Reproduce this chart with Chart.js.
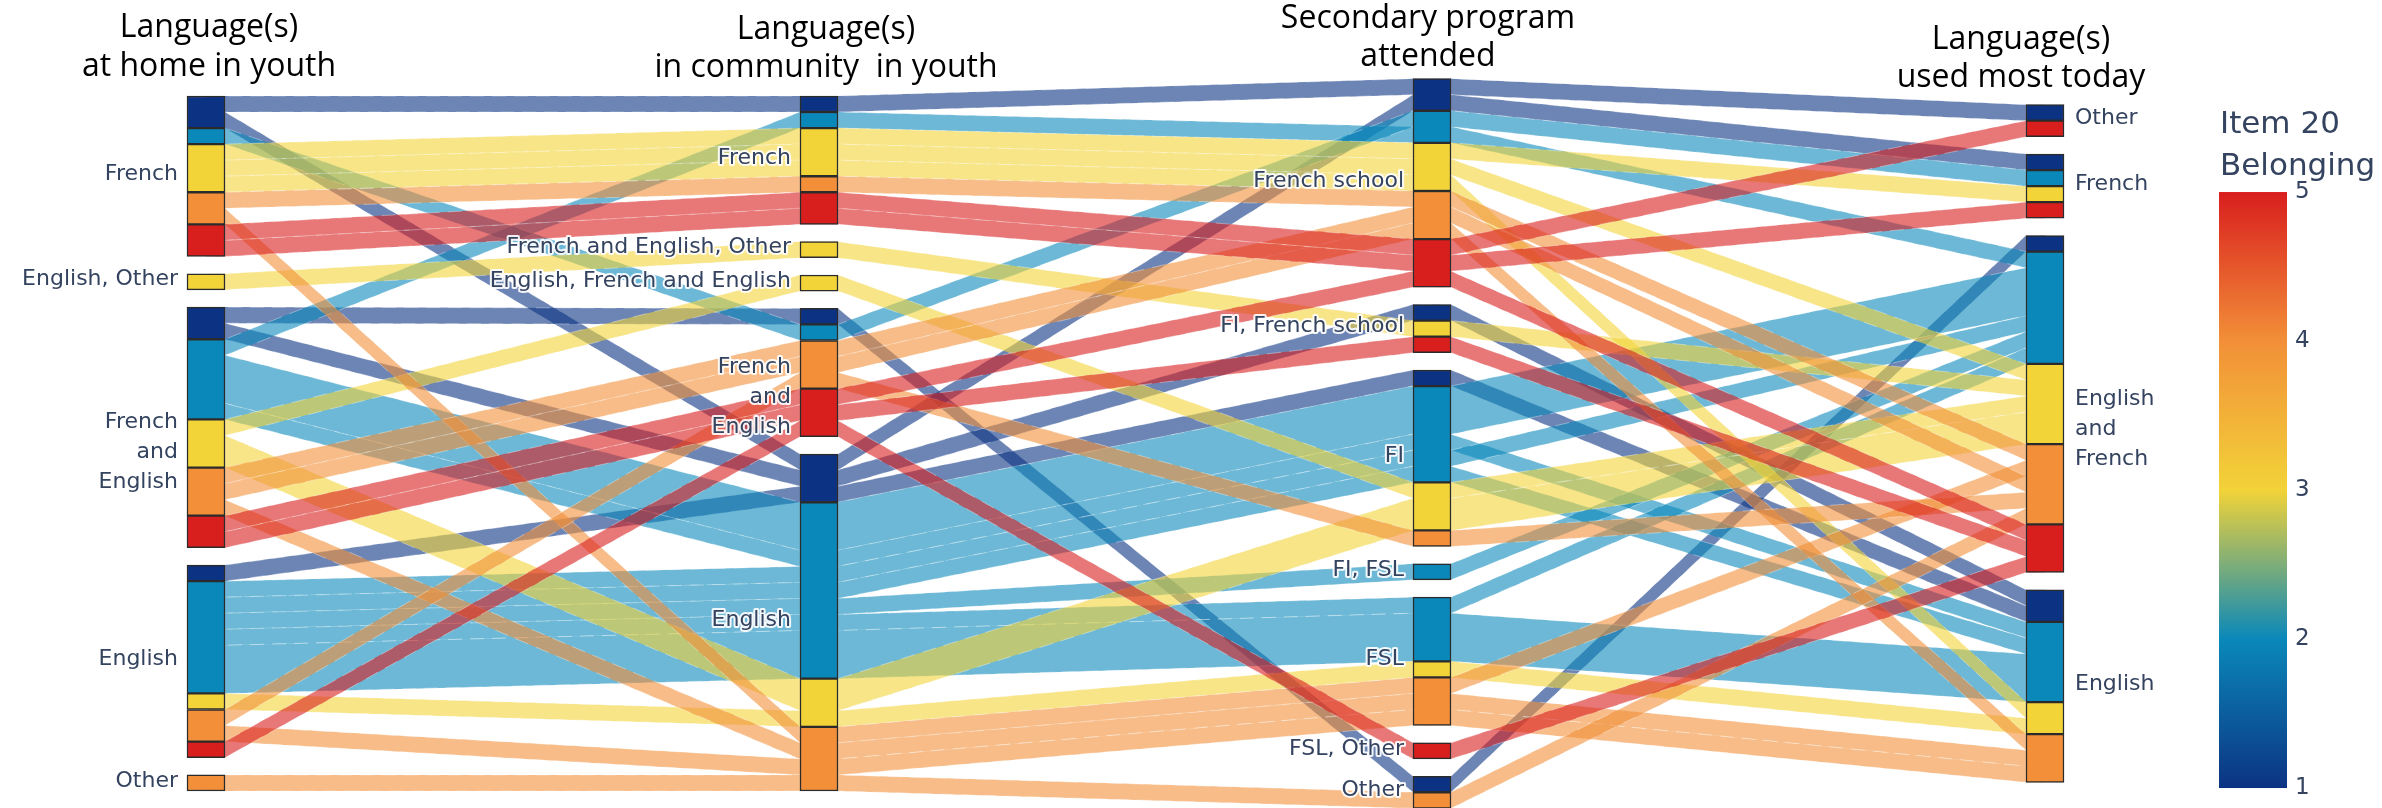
<!DOCTYPE html>
<html>
<head>
<meta charset="utf-8">
<script src="https://cdn.jsdelivr.net/npm/chart.js@4.4.1/dist/chart.umd.min.js"></script>
<style>
  html, body { margin: 0; padding: 0; background: #ffffff; }
  canvas { display: block; }
</style>
</head>
<body>
<canvas id="parcats" width="2382" height="808"></canvas>
<script>
// ---- Dimension titles and category orders (top to bottom) ----
const dimensionTitles = [
  ['Language(s)', 'at home in youth'],
  ['Language(s)', 'in community  in youth'],
  ['Secondary program', 'attended'],
  ['Language(s)', 'used most today']
];
const homeCategories = ['French', 'English, Other', 'French\nand\nEnglish', 'English', 'Other'];
const communityCategories = ['French', 'French and English, Other', 'English, French and English', 'French\nand\nEnglish', 'English'];
const schoolCategories = ['French school', 'FI, French school', 'FI', 'FI, FSL', 'FSL', 'FSL, Other', 'Other'];
const todayCategories = ['Other', 'French', 'English\nand\nFrench', 'English'];

// ---- Respondent paths: one entry per distinct path, with its count ----
const pathHome = [
  'French', 'French', 'French\nand\nEnglish', 'French\nand\nEnglish', 'English',
  'French\nand\nEnglish', 'French', 'French\nand\nEnglish', 'French\nand\nEnglish', 'English', 'English', 'English', 'English', 'English',
  'French', 'French', 'French', 'English, Other', 'French\nand\nEnglish', 'French\nand\nEnglish', 'English',
  'French', 'French', 'French\nand\nEnglish', 'French\nand\nEnglish', 'French\nand\nEnglish', 'English', 'English', 'Other',
  'French', 'French', 'French\nand\nEnglish', 'French\nand\nEnglish', 'English'
];
const pathCommunity = [
  'French', 'English', 'French\nand\nEnglish', 'English', 'English',
  'French', 'French\nand\nEnglish', 'English', 'English', 'English', 'English', 'English', 'English', 'English',
  'French', 'French', 'French', 'French and English, Other', 'English, French and English', 'English', 'English',
  'French', 'English', 'French\nand\nEnglish', 'French\nand\nEnglish', 'English', 'French\nand\nEnglish', 'English', 'English',
  'French', 'French', 'French\nand\nEnglish', 'French\nand\nEnglish', 'French\nand\nEnglish'
];
const pathSchool = [
  'French school', 'French school', 'Other', 'FI, French school', 'FI',
  'French school', 'French school', 'FI', 'FI', 'FI', 'FI', 'FI, FSL', 'FSL', 'FSL',
  'French school', 'French school', 'French school', 'FI, French school', 'FI', 'FI', 'FSL',
  'French school', 'FSL', 'French school', 'French school', 'FSL', 'FI', 'FSL', 'Other',
  'French school', 'French school', 'French school', 'FI, French school', 'FSL, Other'
];
const pathToday = [
  'Other', 'French', 'English\nand\nFrench', 'English', 'English',
  'English\nand\nFrench', 'French', 'English\nand\nFrench', 'English', 'English\nand\nFrench', 'English', 'English\nand\nFrench', 'English\nand\nFrench', 'English',
  'French', 'English\nand\nFrench', 'English', 'English\nand\nFrench', 'English\nand\nFrench', 'English\nand\nFrench', 'English',
  'English\nand\nFrench', 'English\nand\nFrench', 'English\nand\nFrench', 'English', 'English', 'English\nand\nFrench', 'English', 'English\nand\nFrench',
  'Other', 'French', 'English\nand\nFrench', 'English\nand\nFrench', 'English\nand\nFrench'
];
const pathBelonging = [
  1, 1, 1, 1, 1,
  2, 2, 2, 2, 2, 2, 2, 2, 2,
  3, 3, 3, 3, 3, 3, 3,
  4, 4, 4, 4, 4, 4, 4, 4,
  5, 5, 5, 5, 5
];
const pathCount = [
  1, 1, 1, 1, 1,
  1, 1, 3, 1, 1, 1, 1, 1, 3,
  1, 1, 1, 1, 1, 2, 1,
  1, 1, 1, 1, 1, 1, 1, 1,
  1, 1, 1, 1, 1
];
const colorbarTitle = ['Item 20', 'Belonging'];
const belongingTicks = [1, 2, 3, 4, 5];

// ---- Styling ----
const portland = [[12, 51, 131], [10, 136, 186], [242, 211, 56], [242, 143, 56], [217, 30, 30]];
const rgb = (c, a) => a === undefined ? `rgb(${c[0]},${c[1]},${c[2]})` : `rgba(${c[0]},${c[1]},${c[2]},${a})`;
const BOX_W = 38;            // category box width, px
const CAT_GAP = 1.08;        // gap between categories, in count units
const CENTER = 23.28;        // vertical centre of every dimension, in count units
const RIBBON_ALPHA = 0.6;
const LABEL_FONT = '22px "DejaVu Sans", Verdana, sans-serif';
const LABEL_COLOR = '#34435f';
const TITLE_FONT = '32px "Open Sans", Lato, sans-serif';
const titleCenterShift = [3, 7, -4, -24];
const titleBaselines = [[37, 76], [39, 77], [28, 66], [49, 87]];

const dimensionCategories = [homeCategories, communityCategories, schoolCategories, todayCategories];
const pathColumns = [pathHome, pathCommunity, pathSchool, pathToday];

// ---- Stack categories and paths along each dimension ----
function computeLayout() {
  const n = pathCount.length;
  const total = pathCount.reduce((a, b) => a + b, 0);
  const catBoxes = [];
  const pathTop = [];
  const segments = [];
  const catIndex = (d, i) => dimensionCategories[d].indexOf(pathColumns[d][i]);
  const lex = (a, b) => {
    for (let d = 0; d < pathColumns.length; d++) {
      const diff = catIndex(d, a) - catIndex(d, b);
      if (diff) return diff;
    }
    return 0;
  };
  dimensionCategories.forEach((cats, d) => {
    const col = pathColumns[d];
    const counts = cats.map(c => col.reduce((s, v, i) => s + (v === c ? pathCount[i] : 0), 0));
    let y = CENTER - (total + CAT_GAP * (cats.length - 1)) / 2;
    catBoxes[d] = [];
    pathTop[d] = new Array(n);
    cats.forEach((c, k) => {
      catBoxes[d][k] = { label: c, top: y, bottom: y + counts[k] };
      const members = [];
      for (let i = 0; i < n; i++) if (col[i] === c) members.push(i);
      members.sort((a, b) => (pathBelonging[a] - pathBelonging[b]) || lex(a, b));
      let yy = y;
      let seg = null;
      members.forEach(i => {
        pathTop[d][i] = yy;
        if (!seg || seg.b !== pathBelonging[i]) {
          seg = { x: d, y0: yy, y1: yy, b: pathBelonging[i] };
          segments.push(seg);
        }
        yy += pathCount[i];
        seg.y1 = yy;
      });
      y += counts[k] + CAT_GAP;
    });
  });
  return { catBoxes, pathTop, segments };
}
const layout = computeLayout();

// ---- Ribbons between the dimensions ----
const ribbonPlugin = {
  id: 'ribbons',
  beforeDatasetsDraw(chart) {
    const { ctx, scales: { x, y } } = chart;
    const hw = BOX_W / 2;
    ctx.save();
    for (let i = 0; i < pathCount.length; i++) {
      const xs = [0, 1, 2, 3].map(d => x.getPixelForValue(d));
      const tops = [0, 1, 2, 3].map(d => y.getPixelForValue(layout.pathTop[d][i]));
      const bots = [0, 1, 2, 3].map(d => y.getPixelForValue(layout.pathTop[d][i] + pathCount[i]));
      ctx.beginPath();
      ctx.moveTo(xs[0], tops[0]);
      for (let d = 0; d < 4; d++) {
        if (d > 0) ctx.lineTo(xs[d] - hw, tops[d]);
        if (d < 3) ctx.lineTo(xs[d] + hw, tops[d]);
      }
      ctx.lineTo(xs[3], tops[3]);
      ctx.lineTo(xs[3], bots[3]);
      for (let d = 3; d >= 0; d--) {
        if (d < 3) ctx.lineTo(xs[d] + hw, bots[d]);
        if (d > 0) ctx.lineTo(xs[d] - hw, bots[d]);
      }
      ctx.lineTo(xs[0], bots[0]);
      ctx.closePath();
      ctx.fillStyle = rgb(portland[pathBelonging[i] - 1], RIBBON_ALPHA);
      ctx.fill();
      // faint light outline along the ribbon edges
      ctx.setLineDash([14, 8]);
      ctx.strokeStyle = 'rgba(255,255,255,0.35)';
      ctx.lineWidth = 1;
      ctx.stroke();
      ctx.setLineDash([]);
    }
    ctx.restore();
  }
};

// ---- Category labels, dimension titles and colour bar ----
const annotationPlugin = {
  id: 'annotations',
  afterDatasetsDraw(chart) {
    const { ctx, scales: { x, y, belong } } = chart;
    const hw = BOX_W / 2;
    ctx.save();

    // category labels
    ctx.font = LABEL_FONT;
    ctx.textBaseline = 'middle';
    ctx.lineJoin = 'round';
    layout.catBoxes.forEach((boxes, d) => {
      const last = d === layout.catBoxes.length - 1;
      ctx.textAlign = last ? 'left' : 'right';
      const lx = last ? x.getPixelForValue(d) + hw + 11 : x.getPixelForValue(d) - hw - 9;
      boxes.forEach(b => {
        const lines = b.label.split('\n');
        const mid = (y.getPixelForValue(b.top) + y.getPixelForValue(b.bottom)) / 2;
        const first = lines.length > 1 ? mid - 5 : mid - 2;
        lines.forEach((t, j) => {
          const ly = first + j * 30;
          ctx.strokeStyle = 'rgba(255,255,255,0.9)';
          ctx.lineWidth = 4;
          ctx.strokeText(t, lx, ly);
          ctx.fillStyle = LABEL_COLOR;
          ctx.fillText(t, lx, ly);
        });
      });
    });

    // dimension titles
    ctx.font = TITLE_FONT;
    ctx.fillStyle = '#000000';
    ctx.textAlign = 'center';
    ctx.textBaseline = 'alphabetic';
    dimensionTitles.forEach((lines, d) => {
      const cx = x.getPixelForValue(d) + titleCenterShift[d];
      lines.forEach((t, j) => ctx.fillText(t, cx, titleBaselines[d][j]));
    });

    // colour bar
    const cbLeft = x.getPixelForValue(3) + 174;
    const cbRight = x.getPixelForValue(3) + 242;
    const yLo = belong.getPixelForValue(belongingTicks[0]);
    const yHi = belong.getPixelForValue(belongingTicks[belongingTicks.length - 1]);
    const grad = ctx.createLinearGradient(0, yLo, 0, yHi);
    portland.forEach((c, k) => grad.addColorStop(k / (portland.length - 1), rgb(c)));
    ctx.fillStyle = grad;
    ctx.fillRect(cbLeft, yHi, cbRight - cbLeft, yLo - yHi);

    ctx.fillStyle = LABEL_COLOR;
    ctx.textAlign = 'left';
    ctx.font = '31px "DejaVu Sans", Verdana, sans-serif';
    ctx.fillText(colorbarTitle[0], cbLeft + 1, 133);
    ctx.fillText(colorbarTitle[1], cbLeft + 1, 175);

    ctx.font = '23px "DejaVu Sans", Verdana, sans-serif';
    ctx.textBaseline = 'middle';
    belongingTicks.forEach(v => ctx.fillText(String(v), cbRight + 8, belong.getPixelForValue(v)));
    ctx.restore();
  }
};

const segData = layout.segments.map(s => ({ x: s.x, y: [s.y0, s.y1] }));
const segColors = layout.segments.map(s => rgb(portland[s.b - 1]));

new Chart(document.getElementById('parcats'), {
  type: 'bar',
  data: {
    datasets: [{
      data: segData,
      backgroundColor: segColors,
      borderColor: '#2b2b2b',
      borderWidth: 1.5,
      borderSkipped: false,
      barThickness: BOX_W,
      clip: false
    }]
  },
  options: {
    responsive: false,
    animation: false,
    devicePixelRatio: 1,
    layout: { padding: { left: 206, right: 337, top: 70, bottom: 0 } },
    plugins: { legend: { display: false }, tooltip: { enabled: false } },
    scales: {
      x: { type: 'linear', min: 0, max: 3, offset: false, display: false },
      y: { type: 'linear', min: 0, max: 46, reverse: true, display: false },
      belong: { type: 'linear', axis: 'y', min: 0.866, max: 5.819, display: false }
    }
  },
  plugins: [ribbonPlugin, annotationPlugin]
});
</script>
</body>
</html>
